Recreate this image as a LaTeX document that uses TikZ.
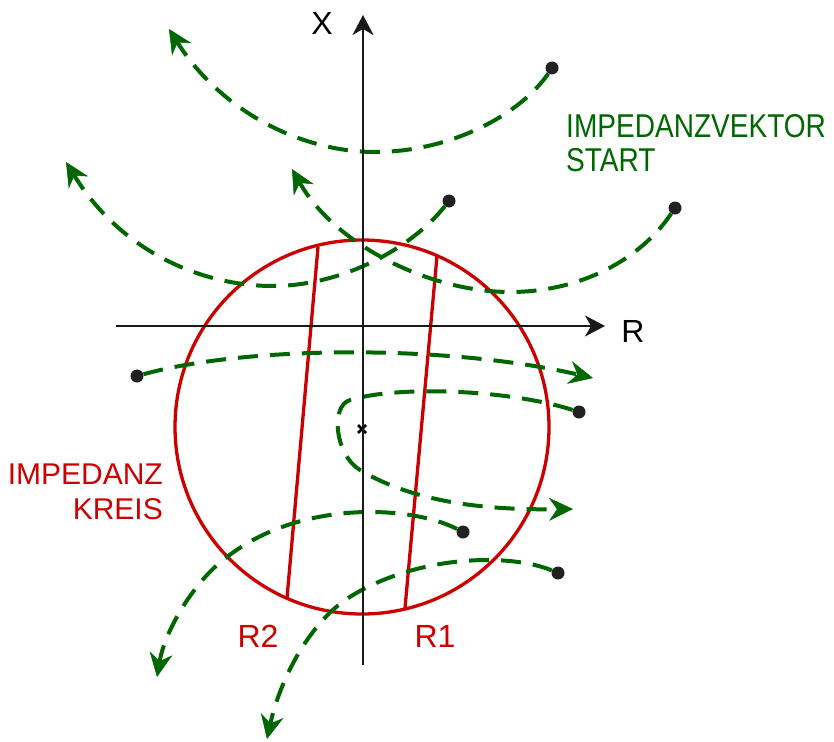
\documentclass[tikz,border=0pt]{standalone}
\usepackage{fontspec}
\setmainfont{Liberation Sans}
\newfontfamily\narrowfont[FakeStretch=0.85]{Liberation Sans}
\usetikzlibrary{arrows.meta}
\definecolor{kred}{RGB}{204,0,0}
\definecolor{kgreen}{RGB}{0,102,0}

\begin{document}
\begin{tikzpicture}[x=1pt,y=-1pt,
  axis/.style={line width=2pt,draw=black!90,-{Stealth[length=20pt,width=21pt,inset=6pt]}},
  kreis/.style={line width=3.3pt,draw=kred},
  bahn/.style={line width=4pt,draw=kgreen,dash pattern=on 20pt off 12pt,
    -{Stealth[length=24pt,width=23pt,inset=8pt,line width=0.5pt]}},
  dot/.style={circle,fill=black!87,inner sep=0pt,minimum size=13pt},
  lbl/.style={inner sep=0pt,font=\fontsize{32}{36}\selectfont}]
  \useasboundingbox (0,0) rectangle (834,741);
  % impedance circle with the two reach lines
  \coordinate (m) at (362,427);
  \coordinate (a2) at (318,247);
  \coordinate (b2) at (287,598);
  \coordinate (a1) at (437,256);
  \coordinate (b1) at (405,608);
  \draw[kreis] (m) circle (187);
  \draw[kreis] (a2) -- (b2);
  \draw[kreis] (a1) -- (b1);
  \draw[line width=2.5pt] (358,425) -- (366,433) (358,433) -- (366,425);
  % start points and ends of the impedance vectors
  \foreach \n/\p in {s1/{552,68},s2/{449,201},s3/{675,208},s4/{137,376},
                     s5/{579,412},s6/{463,532},s7/{558,573}}
    \node[dot] (\n) at (\p) {};
  \coordinate (e1) at (169,29);
  \coordinate (e2) at (66,162);
  \coordinate (e3) at (292,169);
  \coordinate (e4) at (593,378);
  \coordinate (e5) at (573,509);
  \coordinate (e6) at (157,677);
  \coordinate (e7) at (267,739);
  \draw[bahn] (s1) .. controls (520,115) and (450,152) .. (375,152)
    .. controls (300,152) and (220,110) .. (e1);
  \draw[bahn] (s2) .. controls (410,250) and (340,286) .. (273,286)
    .. controls (200,286) and (120,250) .. (e2);
  \draw[bahn] (s3) .. controls (640,260) and (580,292) .. (510,292)
    .. controls (430,292) and (335,245) .. (e3);
  \draw[bahn] (s4) .. controls (250,345) and (450,345) .. (e4);
  \draw[bahn] (s5) .. controls (510,390) and (400,385) .. (350,400)
    .. controls (330,406) and (335,455) .. (360,470)
    .. controls (420,506) and (500,510) .. (e5);
  \draw[bahn] (s6) .. controls (410,505) and (300,500) .. (227,557)
    .. controls (195,580) and (165,630) .. (e6);
  \draw[bahn] (s7) .. controls (510,553) and (420,555) .. (353,595)
    .. controls (310,620) and (280,680) .. (e7);
  % axes
  \coordinate (rl) at (116,326);
  \coordinate (rr) at (605,326);
  \coordinate (xb) at (363,665);
  \coordinate (xt) at (363,15);
  \draw[axis] (rl) -- (rr);
  \draw[axis] (xb) -- (xt);
  \node[lbl] (xlab) at (322,23) {X};
  \node[lbl] (rlab) at (633,331) {R};
  \node[lbl,text=kred] (r2lab) at (258,636) {R2};
  \node[lbl,text=kred] (r1lab) at (435,636) {R1};
  \node[inner sep=0pt,text=kred,font=\fontsize{30}{35}\selectfont,align=right,anchor=east]
    (kreislab) at (163,492) {IMPEDANZ\\KREIS};
  \node[inner sep=0pt,text=kgreen,font=\narrowfont\fontsize{33}{34}\selectfont,align=left,anchor=west]
    (veklab) at (566,143) {IMPEDANZVEKTOR\\START};
\end{tikzpicture}
\end{document}
